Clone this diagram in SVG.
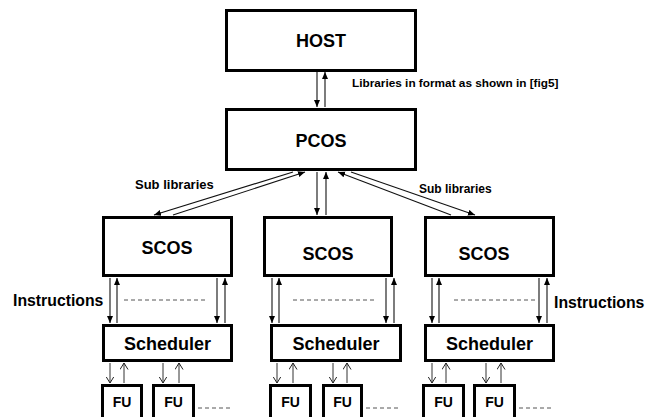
<svg xmlns="http://www.w3.org/2000/svg" width="657" height="417" viewBox="0 0 657 417">
  <style>
    .box { fill: #fff; stroke: #000; stroke-width: 3; }
    .lbl { font-family: "Liberation Sans", Arial, sans-serif; font-weight: bold; fill: #000; }
    .big { font-size: 18px; text-anchor: middle; }
    .fu { font-size: 14px; text-anchor: middle; }
    .ln { stroke: #111; stroke-width: 1.1; fill: none; }
    .thin { stroke: #333; stroke-width: 1; fill: none; }
    .dash { stroke: #555; stroke-width: 1; stroke-dasharray: 4 3; fill: none; }
  </style>
  <defs>
    <marker id="tri" markerUnits="userSpaceOnUse" markerWidth="8" markerHeight="8" refX="7" refY="3" orient="auto">
      <path d="M0,0 L7,3 L0,6 z" fill="#000"/>
    </marker>
    <marker id="vee" markerUnits="userSpaceOnUse" markerWidth="8" markerHeight="9" refX="6.5" refY="4" orient="auto">
      <path d="M0,0 L6.5,4 L0,8" fill="none" stroke="#222" stroke-width="1"/>
    </marker>
  </defs>

  <rect width="657" height="417" fill="#fff"/>

  <!-- connectors -->
  <g id="connectors">
    <!-- HOST <-> PCOS -->
    <line class="ln" x1="317" y1="72" x2="317" y2="107" marker-end="url(#tri)"/>
    <line class="ln" x1="325" y1="107" x2="325" y2="72" marker-end="url(#tri)"/>
    <!-- PCOS <-> left SCOS -->
    <line class="ln" x1="293" y1="172" x2="154" y2="215" marker-end="url(#tri)"/>
    <line class="ln" x1="173" y1="215" x2="305" y2="172" marker-end="url(#tri)"/>
    <!-- PCOS <-> middle SCOS -->
    <line class="ln" x1="317" y1="172" x2="317" y2="215" marker-end="url(#tri)"/>
    <line class="ln" x1="326" y1="215" x2="326" y2="172" marker-end="url(#tri)"/>
    <!-- PCOS <-> right SCOS -->
    <line class="ln" x1="351" y1="172" x2="475" y2="215" marker-end="url(#tri)"/>
    <line class="ln" x1="451" y1="215" x2="338" y2="172" marker-end="url(#tri)"/>

    <!-- SCOS <-> Scheduler, left -->
    <line class="ln" x1="110" y1="278" x2="110" y2="323" marker-end="url(#tri)"/>
    <line class="ln" x1="117" y1="323" x2="117" y2="278" marker-end="url(#tri)"/>
    <line class="ln" x1="217" y1="278" x2="217" y2="323" marker-end="url(#tri)"/>
    <line class="ln" x1="225" y1="323" x2="225" y2="278" marker-end="url(#tri)"/>
    <line class="dash" x1="124" y1="300" x2="208" y2="300"/>
    <!-- SCOS <-> Scheduler, middle -->
    <line class="ln" x1="272" y1="278" x2="272" y2="323" marker-end="url(#tri)"/>
    <line class="ln" x1="279" y1="323" x2="279" y2="278" marker-end="url(#tri)"/>
    <line class="ln" x1="386" y1="278" x2="386" y2="323" marker-end="url(#tri)"/>
    <line class="ln" x1="394" y1="323" x2="394" y2="278" marker-end="url(#tri)"/>
    <line class="dash" x1="293" y1="300" x2="376" y2="300"/>
    <!-- SCOS <-> Scheduler, right -->
    <line class="ln" x1="432" y1="278" x2="432" y2="323" marker-end="url(#tri)"/>
    <line class="ln" x1="439" y1="323" x2="439" y2="278" marker-end="url(#tri)"/>
    <line class="ln" x1="539" y1="278" x2="539" y2="323" marker-end="url(#tri)"/>
    <line class="ln" x1="547" y1="323" x2="547" y2="278" marker-end="url(#tri)"/>
    <line class="dash" x1="454" y1="300" x2="538" y2="300"/>

    <!-- Scheduler <-> FU -->
    <line class="thin" x1="110" y1="363" x2="110" y2="383" marker-end="url(#vee)"/>
    <line class="thin" x1="124" y1="383" x2="124" y2="363" marker-end="url(#vee)"/>
    <line class="thin" x1="163" y1="363" x2="163" y2="383" marker-end="url(#vee)"/>
    <line class="thin" x1="179" y1="383" x2="179" y2="363" marker-end="url(#vee)"/>
    <line class="thin" x1="277" y1="363" x2="277" y2="383" marker-end="url(#vee)"/>
    <line class="thin" x1="293" y1="383" x2="293" y2="363" marker-end="url(#vee)"/>
    <line class="thin" x1="333" y1="363" x2="333" y2="383" marker-end="url(#vee)"/>
    <line class="thin" x1="347" y1="383" x2="347" y2="363" marker-end="url(#vee)"/>
    <line class="thin" x1="432" y1="363" x2="432" y2="383" marker-end="url(#vee)"/>
    <line class="thin" x1="446" y1="383" x2="446" y2="363" marker-end="url(#vee)"/>
    <line class="thin" x1="486" y1="363" x2="486" y2="383" marker-end="url(#vee)"/>
    <line class="thin" x1="501" y1="383" x2="501" y2="363" marker-end="url(#vee)"/>

    <!-- more FUs follow -->
    <line class="dash" x1="198" y1="408" x2="230" y2="408"/>
    <line class="dash" x1="366" y1="408" x2="398" y2="408"/>
    <line class="dash" x1="519" y1="408" x2="552" y2="408"/>
  </g>

  <!-- labels on connectors -->
  <text class="lbl" x="352" y="87" font-size="11.8">Libraries in format as shown in [fig5]</text>
  <text class="lbl" x="135" y="188.5" font-size="13">Sub libraries</text>
  <text class="lbl" x="419" y="193" font-size="12">Sub libraries</text>
  <text class="lbl" x="13" y="305.5" font-size="15.8">Instructions</text>
  <text class="lbl" x="554" y="307.5" font-size="15.8">Instructions</text>

  <g id="host">
    <rect class="box" x="226.5" y="10.5" width="189" height="60"/>
    <text class="lbl big" x="321" y="46.5">HOST</text>
  </g>
  <g id="pcos">
    <rect class="box" x="226.5" y="109.5" width="189" height="60"/>
    <text class="lbl big" x="321" y="146.5" font-size="18.5">PCOS</text>
  </g>

  <g id="scos-1">
    <rect class="box" x="103.5" y="217.5" width="128" height="58"/>
    <text class="lbl big" x="167" y="253.5">SCOS</text>
  </g>
  <g id="scos-2">
    <rect class="box" x="264.5" y="217.5" width="127" height="58"/>
    <text class="lbl big" x="328" y="259.5">SCOS</text>
  </g>
  <g id="scos-3">
    <rect class="box" x="425.5" y="217.5" width="128" height="58"/>
    <text class="lbl big" x="484" y="259.5">SCOS</text>
  </g>

  <g id="scheduler-1">
    <rect class="box" x="103.5" y="325.5" width="128" height="35"/>
    <text class="lbl big" x="167.5" y="349.5">Scheduler</text>
  </g>
  <g id="scheduler-2">
    <rect class="box" x="271.5" y="325.5" width="129" height="35"/>
    <text class="lbl big" x="336" y="349.5">Scheduler</text>
  </g>
  <g id="scheduler-3">
    <rect class="box" x="425.5" y="325.5" width="128" height="35"/>
    <text class="lbl big" x="489.5" y="349.5">Scheduler</text>
  </g>

  <g id="fu-1a">
    <rect class="box" x="102.5" y="385.5" width="39" height="40"/>
    <text class="lbl fu" x="122" y="407">FU</text>
  </g>
  <g id="fu-1b">
    <rect class="box" x="153.5" y="385.5" width="40" height="40"/>
    <text class="lbl fu" x="173.5" y="407">FU</text>
  </g>
  <g id="fu-2a">
    <rect class="box" x="270.5" y="385.5" width="40" height="40"/>
    <text class="lbl fu" x="290.5" y="407">FU</text>
  </g>
  <g id="fu-2b">
    <rect class="box" x="323.5" y="385.5" width="38" height="40"/>
    <text class="lbl fu" x="342.5" y="407">FU</text>
  </g>
  <g id="fu-3a">
    <rect class="box" x="423.5" y="385.5" width="40" height="40"/>
    <text class="lbl fu" x="443.5" y="407">FU</text>
  </g>
  <g id="fu-3b">
    <rect class="box" x="474.5" y="385.5" width="40" height="40"/>
    <text class="lbl fu" x="494.5" y="407">FU</text>
  </g>
</svg>
